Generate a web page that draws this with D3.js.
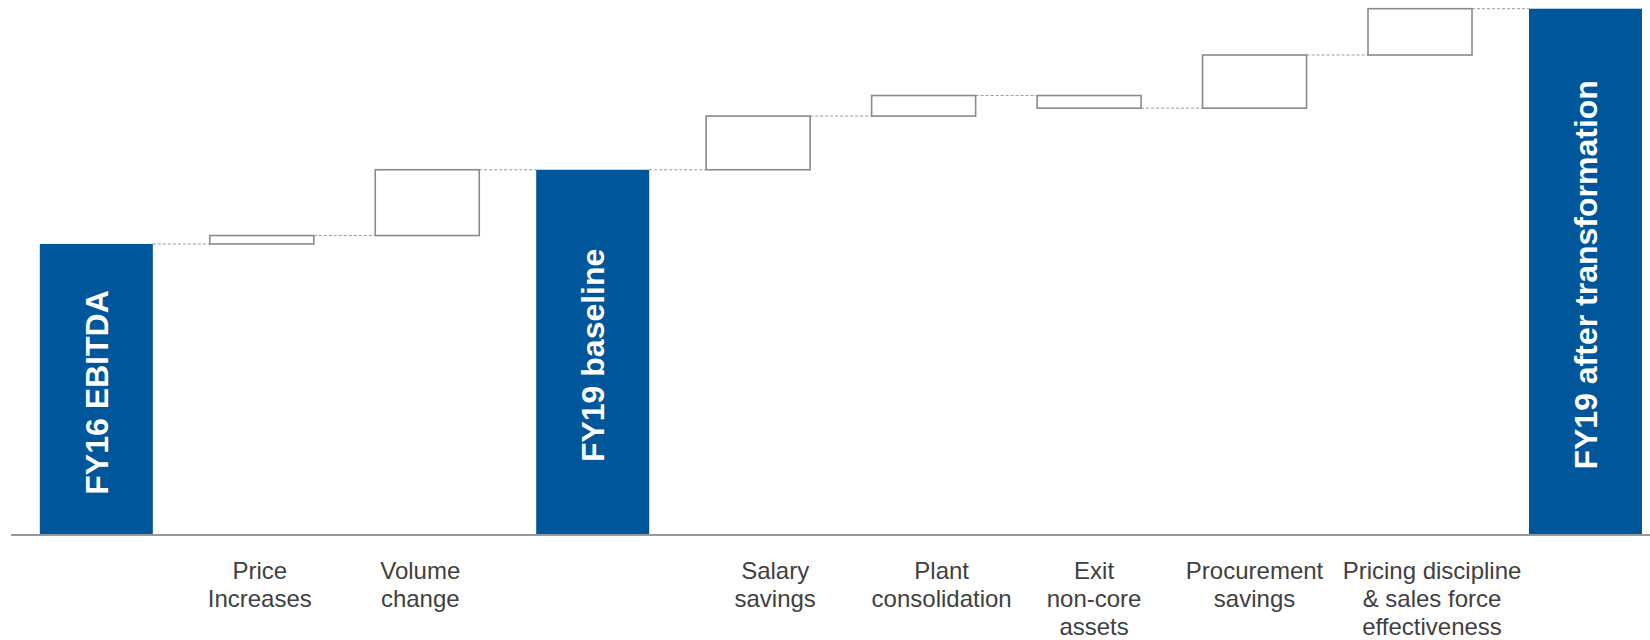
<!DOCTYPE html>
<html>
<head>
<meta charset="utf-8">
<script src="https://cdn.jsdelivr.net/npm/d3@7"></script>
<style>
  html, body { margin: 0; padding: 0; background: #ffffff; }
  svg { display: block; }
</style>
</head>
<body>
<svg id="chart" width="1650" height="640"></svg>
<script>
// ---- Data ----
const categories = [
  "FY16 EBITDA", "Price Increases", "Volume change", "FY19 baseline",
  "Salary savings", "Plant consolidation", "Exit non-core assets",
  "Procurement savings", "Pricing discipline & sales force effectiveness",
  "FY19 after transformation"
];
const barTypes = ["total", "delta", "delta", "total", "delta", "delta", "delta", "delta", "delta", "total"];
const values = [55.3, 1.6, 12.5, 69.4, 10.2, 3.9, -2.4, 10.1, 8.8, 100.0];
const tickLabels = [
  [], ["Price", "Increases"], ["Volume", "change"], [],
  ["Salary", "savings"], ["Plant", "consolidation"], ["Exit", "non-core", "assets"],
  ["Procurement", "savings"], ["Pricing discipline", "& sales force", "effectiveness"], []
];
const totalLabels = ["FY16 EBITDA", "", "", "FY19 baseline", "", "", "", "", "", "FY19 after transformation"];

// layout tweak: horizontal nudge of each category label (px)
const labelNudge = [0, -2, -7, 0, 17, 18, 5, 0, 12, 0];

// ---- Build waterfall segments ----
let running = 0;
const rows = categories.map((c, i) => {
  let start, end;
  if (barTypes[i] === "total") {
    start = 0; end = values[i]; running = values[i];
  } else {
    start = running; end = running + values[i]; running = end;
  }
  return { cat: c, i, type: barTypes[i], start, end, level: running, label: totalLabels[i], ticks: tickLabels[i] };
});

// ---- Scales ----
const svg = d3.select("#chart");
const x = d3.scaleBand()
  .domain(categories)
  .range([13.6, 1668.2])
  .paddingInner(0.317)
  .paddingOuter(0.1585);
const y = d3.scaleLinear().domain([0, 100]).range([535, 8.7]);

const blue = "#00569a";
const inset = 4.5;

// ---- Connectors ----
const conn = svg.append("g");
rows.slice(0, -1).forEach((r, k) => {
  const nxt = rows[k + 1];
  const x1 = x(r.cat) + x.bandwidth() - (r.type === "delta" ? inset : 0);
  const x2 = x(nxt.cat) + (nxt.type === "delta" ? inset : 0);
  conn.append("line")
    .attr("x1", x1).attr("x2", x2)
    .attr("y1", y(r.level)).attr("y2", y(r.level))
    .attr("stroke", "#9a9a9a")
    .attr("stroke-width", 1)
    .attr("stroke-dasharray", "3,2");
});

// ---- Total bars ----
svg.append("g").selectAll("rect")
  .data(rows.filter(r => r.type === "total"))
  .join("rect")
  .attr("x", d => x(d.cat))
  .attr("width", x.bandwidth())
  .attr("y", d => y(d.end))
  .attr("height", d => y(0) - y(d.end))
  .attr("fill", blue);

// ---- Delta boxes ----
svg.append("g").selectAll("rect")
  .data(rows.filter(r => r.type === "delta"))
  .join("rect")
  .attr("x", d => x(d.cat) + inset)
  .attr("width", x.bandwidth() - 2 * inset)
  .attr("y", d => y(Math.max(d.start, d.end)))
  .attr("height", d => Math.abs(y(d.start) - y(d.end)))
  .attr("fill", "#ffffff")
  .attr("stroke", "#8a8a8a")
  .attr("stroke-width", 1.6);

// ---- Rotated labels inside totals ----
svg.append("g").selectAll("text")
  .data(rows.filter(r => r.type === "total"))
  .join("text")
  .attr("transform", d => {
    const cx = x(d.cat) + x.bandwidth() / 2 + 11.5;
    const cy = (y(d.end) + y(0)) / 2 + 3;
    return `translate(${cx},${cy}) rotate(-90)`;
  })
  .attr("text-anchor", "middle")
  .attr("fill", "#ffffff")
  .attr("font-family", "'Liberation Sans', Arial, sans-serif")
  .attr("font-weight", "bold")
  .attr("font-size", 32)
  .text(d => d.label);

// ---- X axis ----
const axis = d3.axisBottom(x).tickSize(0).tickSizeOuter(0).tickFormat(() => "");
const gAxis = svg.append("g").attr("transform", `translate(0,${y(0)})`).call(axis);
gAxis.select(".domain").attr("stroke", "#999999").attr("stroke-width", 2)
  .attr("d", `M11,0H1650`);
gAxis.selectAll(".tick").each(function(d, i) {
  const t = d3.select(this).select("text")
    .attr("fill", "#404040")
    .attr("font-family", "'Liberation Sans', Arial, sans-serif")
    .attr("font-size", 24)
    .attr("text-anchor", "middle")
    .attr("dy", null)
    .attr("y", 0);
  t.text(null);
  rows[i].ticks.forEach((line, j) => {
    t.append("tspan").attr("x", labelNudge[i]).attr("y", 43.5 + j * 28.4).text(line);
  });
});
</script>
</body>
</html>
